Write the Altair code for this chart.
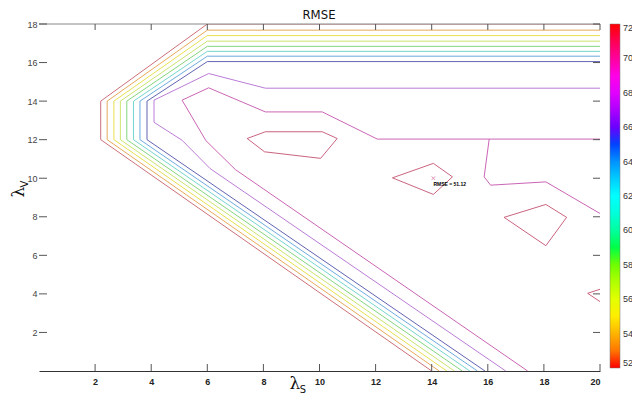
import altair as alt
import pandas as pd

# ---------------- data ----------------
chart_title = "RMSE"
x_tick_values = [2, 4, 6, 8, 10, 12, 14, 16, 18, 20]
y_tick_values = [2, 4, 6, 8, 10, 12, 14, 16, 18]
cbar_values = [52, 54, 56, 58, 60, 62, 64, 66, 68, 70, 72]
cbar_stops = [52, 55.333, 58.667, 62, 65.333, 68.667, 72]
cbar_colors = ["#ff0000", "#ffff00", "#00ff00", "#00ffff", "#0000ff", "#ff00ff", "#ff0000"]

# contour levels (RMSE) and the line colour each is drawn with
levels = [52.4, 54.0, 55.3, 56.6, 58.6, 61.6, 63.4, 65.6, 67.8, 69.4, 71.0]
level_colors = ["#c8606c", "#e4a048", "#e6dc3c", "#c4e05c", "#78d070", "#66d0c8",
                "#5fa2dc", "#5252aa", "#b46ed2", "#c454ac", "#c45270"]

# outer nested contours (lambda_S, lambda_V)
c1_x = [20, 6.0, 2.20, 2.20, 14.00]; c1_y = [18.00, 18.00, 14, 12, 0]
c2_x = [20, 6.0, 2.43, 2.43, 14.27]; c2_y = [17.68, 17.68, 14, 12, 0]
c3_x = [20, 6.0, 2.67, 2.67, 14.54]; c3_y = [17.40, 17.40, 14, 12, 0]
c4_x = [20, 6.0, 2.90, 2.90, 14.81]; c4_y = [17.11, 17.11, 14, 12, 0]
c5_x = [20, 6.0, 3.13, 3.13, 15.09]; c5_y = [16.84, 16.84, 14, 12, 0]
c6_x = [20, 6.0, 3.37, 3.37, 15.36]; c6_y = [16.58, 16.58, 14, 12, 0]
c7_x = [20, 6.0, 3.60, 3.60, 15.63]; c7_y = [16.33, 16.33, 14, 12, 0]
c8_x = [20, 6.0, 3.85, 3.85, 15.90]; c8_y = [16.05, 16.05, 14, 12, 0]
c9_x = [20, 8.07, 6.05, 4.10, 4.10, 5.10, 6.10, 16.64]
c9_y = [14.67, 14.67, 15.43, 14.05, 12.90, 11.97, 10.50, 0]
c10_x = [20, 12.06, 10.10, 8.07, 6.05, 5.10, 5.95, 7.00, 17.42]
c10_y = [12.03, 12.03, 13.44, 13.44, 14.69, 14.05, 11.95, 10.45, 0]
c10b_x = [16.05, 15.87, 16.10, 18.07, 20]
c10b_y = [12.03, 10.07, 9.64, 9.81, 8.17]
# innermost closed contours
p1_x = [7.42, 8.07, 10.10, 10.63, 10.04, 8.04, 7.42]
p1_y = [12.06, 12.41, 12.41, 12.06, 11.03, 11.37, 12.06]
p2_x = [12.60, 14.06, 14.74, 14.06, 12.60]
p2_y = [10.02, 10.77, 10.07, 9.16, 10.02]
p3_x = [16.58, 18.07, 18.81, 18.07, 16.58]
p3_y = [7.97, 8.64, 7.97, 6.50, 7.97]
p4_x = [20, 19.56, 20]
p4_y = [4.24, 4.03, 3.60]

tip_x = [14.06]
tip_y = [10.0]
tip_text = ["RMSE = 51.12"]

# ---------------- build table ----------------
series = [
    ("c1", levels[0], c1_x, c1_y), ("c2", levels[1], c2_x, c2_y),
    ("c3", levels[2], c3_x, c3_y), ("c4", levels[3], c4_x, c4_y),
    ("c5", levels[4], c5_x, c5_y), ("c6", levels[5], c6_x, c6_y),
    ("c7", levels[6], c7_x, c7_y), ("c8", levels[7], c8_x, c8_y),
    ("c9", levels[8], c9_x, c9_y), ("c10", levels[9], c10_x, c10_y),
    ("c10b", levels[9], c10b_x, c10b_y),
    ("p1", levels[10], p1_x, p1_y), ("p2", levels[10], p2_x, p2_y),
    ("p3", levels[10], p3_x, p3_y), ("p4", levels[10], p4_x, p4_y),
]
rows = []
for name, lev, xs_, ys_ in series:
    for i, (xv, yv) in enumerate(zip(xs_, ys_)):
        rows.append({"id": name, "level": lev, "i": i, "x": xv, "y": yv})
df = pd.DataFrame(rows)

W, H = 561, 347
xs = alt.Scale(domain=[0, 20], nice=False, zero=False)
ys = alt.Scale(domain=[0, 18], nice=False, zero=False)
narrow = "Liberation Sans Narrow, DejaVu Sans Condensed, Roboto Condensed, Liberation Sans, sans-serif"

lines = alt.Chart(df).mark_line(strokeWidth=1, opacity=0.9, clip=True).encode(
    x=alt.X("x:Q", scale=xs, axis=alt.Axis(values=x_tick_values, ticks=False, grid=False,
                                           domain=True, domainColor="#333333", domainWidth=1,
                                           labelFontSize=9, labelFontWeight="bold",
                                           labelColor="#222222", labelPadding=6, title=None,
                                           labelFont="Liberation Sans")),
    y=alt.Y("y:Q", scale=ys, axis=alt.Axis(values=y_tick_values, ticks=False, grid=False,
                                           domain=False, labelFontSize=9, labelColor="#444444",
                                           labelPadding=2, title=None,
                                           labelFont="Liberation Sans")),
    color=alt.Color("level:O", scale=alt.Scale(domain=levels, range=level_colors), legend=None),
    detail="id:N",
    order="i:Q",
)

# colour bar (gradient legend of the hsv colour map)
cbar_df = pd.DataFrame({"v": cbar_values})
cbar = alt.Chart(cbar_df).mark_point(opacity=0).encode(
    x=alt.value(0), y=alt.value(0),
    color=alt.Color("v:Q",
                    scale=alt.Scale(domain=cbar_stops, range=cbar_colors),
                    legend=alt.Legend(orient="none", legendX=571, legendY=0,
                                      direction="vertical", gradientLength=344,
                                      gradientThickness=10, values=cbar_values, title=None,
                                      labelFontSize=9, labelOffset=3, labelOverlap=False,
                                      labelBaseline="middle",
                                      labelFont="Liberation Sans", labelColor="#333333",
                                      gradientStrokeColor="#777777", gradientStrokeWidth=0.5)),
)

xt = pd.DataFrame({"v": x_tick_values})
yt = pd.DataFrame({"v": y_tick_values})
tick_col = "#555555"
bottom_ticks = alt.Chart(xt).mark_rule(color=tick_col).encode(
    x=alt.X("v:Q", scale=xs), y=alt.value(H), y2=alt.value(H - 7))
top_ticks = alt.Chart(xt).mark_rule(color=tick_col).encode(
    x=alt.X("v:Q", scale=xs), y=alt.value(0), y2=alt.value(6))
left_ticks = alt.Chart(yt).mark_rule(color=tick_col).encode(
    y=alt.Y("v:Q", scale=ys), x=alt.value(0), x2=alt.value(8))
right_ticks = alt.Chart(yt).mark_rule(color=tick_col).encode(
    y=alt.Y("v:Q", scale=ys), x=alt.value(W - 7), x2=alt.value(W))
top_border = alt.Chart(pd.DataFrame({"a": [0]})).mark_rule(color="#888888").encode(
    x=alt.value(0), x2=alt.value(W), y=alt.value(0))

one = pd.DataFrame({"a": [0]})
title_mark = alt.Chart(one).mark_text(text=chart_title, fontSize=13, font=narrow,
                                      align="center", baseline="middle",
                                      color="#111111").encode(
    x=alt.value(280), y=alt.value(-9))
xlab = alt.Chart(one).mark_text(text="λ", fontSize=17, font="DejaVu Serif", align="center",
                                baseline="middle", color="#111111").encode(
    x=alt.value(256), y=alt.value(360))
xsub = alt.Chart(one).mark_text(text="S", fontSize=11, font=narrow,
                                align="center", baseline="middle", color="#111111").encode(
    x=alt.value(264), y=alt.value(366))
ylab = alt.Chart(one).mark_text(text="λ", fontSize=17, font="DejaVu Serif", align="center",
                                baseline="middle", angle=270, color="#111111").encode(
    x=alt.value(-20), y=alt.value(168))
ysub = alt.Chart(one).mark_text(text="V", fontSize=11, font=narrow,
                                align="center", baseline="middle", angle=270,
                                color="#111111").encode(
    x=alt.value(-14), y=alt.value(160))

tip_df = pd.DataFrame({"x": tip_x, "y": tip_y, "t": tip_text})
tip_mark = alt.Chart(tip_df).mark_point(shape="M-1,-1L1,1M-1,1L1,-1", size=12, color="#d06090",
                                        filled=False, strokeWidth=1).encode(
    x=alt.X("x:Q", scale=xs), y=alt.Y("y:Q", scale=ys))
tip_label = alt.Chart(tip_df).mark_text(align="left", baseline="middle", fontSize=5,
                                        fontWeight="bold", dx=0, dy=6, color="#000000").encode(
    x=alt.X("x:Q", scale=xs), y=alt.Y("y:Q", scale=ys), text="t:N")

chart = alt.layer(
    lines, cbar, top_border, bottom_ticks, top_ticks, left_ticks, right_ticks,
    tip_mark, tip_label, title_mark, xlab, xsub, ylab, ysub,
).resolve_scale(color="independent").properties(
    width=W, height=H,
    padding={"left": 31, "top": 16, "right": 32, "bottom": 30},
    autosize=alt.AutoSizeParams(type="none"),
).configure_view(stroke=None)

chart.save("out.html", embed_options={"renderer": "svg", "actions": False})
